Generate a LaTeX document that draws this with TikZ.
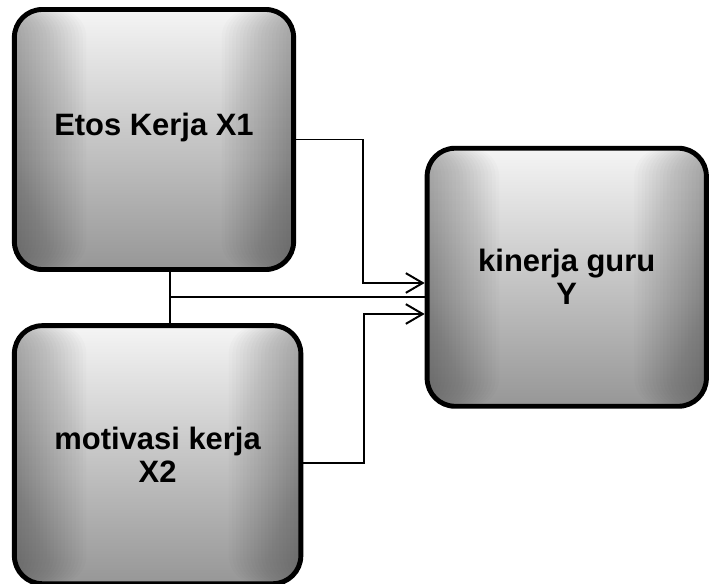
\documentclass[tikz,border=0pt]{standalone}
\usepackage{fontspec}
\setmainfont{Liberation Sans}
\usetikzlibrary{arrows.meta, positioning}

\begin{document}
\begin{tikzpicture}[x=0.025cm, y=-0.025cm,
    var/.style={rectangle, draw, line width=3.5pt, rounded corners=0.7cm,
        minimum width=6.98cm, minimum height=6.45cm, align=center,
        font=\bfseries\fontsize{22}{23.5}\selectfont,
        path picture={
            \shade[top color=gray!8, bottom color=gray!82]
                (path picture bounding box.south west)
                rectangle (path picture bounding box.north east);
            % darker sides
            \foreach \i in {1,...,20}{
                \fill[black, opacity=0.015]
                    (path picture bounding box.north west)
                    rectangle ([xshift=\i*0.09cm]path picture bounding box.south west);
                \fill[black, opacity=0.015]
                    (path picture bounding box.north east)
                    rectangle ([xshift=-\i*0.09cm]path picture bounding box.south east);
            }
        }},
    link/.style={line width=1.4pt,
        -{Straight Barb[length=12pt, width=14pt]}},
    plain/.style={line width=1.4pt}]

    \useasboundingbox (0,0) rectangle (709,584);

    \node[var, minimum height=6.5cm] (etos) at (154,139.5)
        {\raisebox{3pt}[0pt][0pt]{Etos Kerja X1}};

    \node[var, minimum width=7.16cm] (motivasi)
        [below right=1.28cm and 0cm of etos.south west]
        {motivasi kerja\\X2};

    \node[var] (kinerja) at (566.75,277.25)
        {kinerja guru\\Y};

    \coordinate (junc) at (170,297);

    \draw[link] (etos.east) -- ++(67,0) |- (kinerja.west |- 0,283);
    \draw[link] (motivasi.east |- 0,463) -- ++(61,0) |- (kinerja.west |- 0,314);

    \draw[plain] (etos.south -| junc) -- (motivasi.north -| junc);
    \draw[plain] (junc) -- (kinerja.west |- junc);

\end{tikzpicture}
\end{document}
